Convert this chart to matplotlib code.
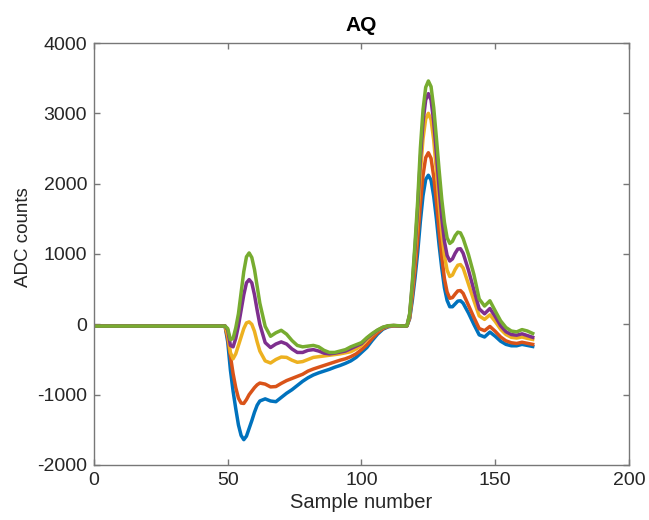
import matplotlib
matplotlib.use('Agg')
import matplotlib.pyplot as plt

# sample positions shared by all five traces
samples = [0, 49, 50, 51, 52, 53, 54, 55, 56, 57, 58, 59, 60, 61, 62,
           64, 66, 68, 70, 72, 74, 76, 78, 80, 82, 84, 86, 88, 90, 92, 94,
           96, 98, 100, 102, 104, 106, 108, 110, 112, 114, 116,
           117, 118, 119, 120, 121, 122, 123, 124, 125, 126, 127, 128, 129,
           130, 131, 132, 133, 134, 135, 136, 137, 138,
           140, 142, 144, 146, 148, 150, 152, 154, 156, 158, 160, 162, 164]

blue = [-25, -25, -250, -650, -950, -1200, -1430, -1580, -1640, -1590, -1480, -1370, -1250, -1150, -1090,
        -1060, -1090, -1100, -1040, -980, -930, -870, -810, -760, -720, -690, -665, -640, -610, -585, -555,
        -520, -470, -400, -330, -230, -140, -70, -35, -22, -22, -25,
        -22, 80, 340, 660, 1020, 1460, 1830, 2060, 2120, 2050, 1820, 1500, 1130,
        800, 520, 340, 250, 250, 290, 330, 335, 300,
        160, 0, -150, -180, -110, -170, -240, -285, -305, -305, -285, -300, -315]

orange = [-25, -25, -200, -450, -700, -900, -1050, -1120, -1125, -1070, -1000, -950, -900, -860, -835,
          -850, -890, -885, -840, -800, -770, -740, -710, -665, -635, -610, -585, -560, -535, -510, -490,
          -460, -420, -360, -290, -200, -120, -60, -30, -20, -22, -25,
          -22, 90, 400, 780, 1200, 1700, 2120, 2370, 2440, 2360, 2100, 1740, 1330,
          960, 650, 460, 370, 380, 430, 475, 480, 440,
          270, 100, -60, -90, -30, -100, -180, -235, -262, -272, -255, -270, -285]

yellow = [-25, -25, -150, -400, -490, -420, -300, -180, -60, 20, 35, 0, -100, -250, -380,
          -520, -550, -500, -465, -470, -510, -540, -530, -500, -470, -460, -450, -440, -430, -420, -405,
          -390, -350, -300, -220, -150, -90, -50, -25, -18, -22, -25,
          -20, 120, 500, 980, 1500, 2150, 2640, 2920, 3000, 2910, 2620, 2180, 1720,
          1300, 980, 770, 680, 700, 780, 840, 850, 800,
          570, 340, 120, 70, 135, 40, -70, -145, -185, -195, -180, -200, -215]

purple = [-25, -25, -80, -300, -320, -200, -20, 200, 420, 590, 636, 590, 420, 200, 0,
          -260, -330, -280, -250, -280, -350, -400, -400, -370, -360, -380, -410, -420, -410, -395, -380,
          -345, -310, -275, -200, -140, -85, -45, -22, -17, -22, -25,
          -20, 140, 560, 1080, 1650, 2350, 2880, 3190, 3280, 3190, 2880, 2430, 1950,
          1520, 1180, 980, 900, 930, 1010, 1070, 1075, 1010,
          770, 490, 220, 150, 225, 110, -20, -105, -145, -155, -135, -160, -185]

green = [-25, -25, -60, -220, -200, -50, 150, 450, 750, 960, 1015, 950, 780, 540, 300,
         -30, -170, -120, -85, -140, -230, -300, -320, -310, -300, -320, -370, -400, -400, -380, -360,
         -320, -290, -260, -190, -130, -80, -40, -20, -15, -20, -25,
         -20, 150, 600, 1150, 1750, 2500, 3050, 3370, 3460, 3380, 3080, 2650, 2200,
         1780, 1450, 1230, 1150, 1180, 1260, 1310, 1300, 1220,
         990, 710, 360, 260, 335, 190, 50, -45, -95, -108, -75, -95, -130]

series = [blue, orange, yellow, purple, green]
colors = ['#0072BD', '#D95319', '#EDB120', '#7E2F8E', '#77AC30']

plt.rcParams['font.family'] = ['Liberation Sans', 'DejaVu Sans']
plt.rcParams['axes.unicode_minus'] = False
text_col = '#262626'

fig = plt.figure(figsize=(6.49, 5.2), dpi=100)
ax = fig.add_axes([0.1448, 0.1058, 0.8244, 0.8115])

for ys, c in zip(series, colors):
    ax.plot(samples, ys, color=c, linewidth=2.5, solid_joinstyle='round')

ax.set_xlim(0, 200)
ax.set_ylim(-2000, 4000)
ax.set_xticks([0, 50, 100, 150, 200])
ax.set_yticks(range(-2000, 4001, 1000))
ax.tick_params(direction='in', top=True, right=True, length=4, width=1,
               colors='#777777', labelcolor=text_col, labelsize=14, pad=5)
for s in ax.spines.values():
    s.set_color('#777777')
    s.set_linewidth(1)

ax.set_xlabel('Sample number', fontsize=14.5, color=text_col, labelpad=3)
ax.set_ylabel('ADC counts', fontsize=13.5, color=text_col)
ax.yaxis.set_label_coords(-0.115, 0.54)
ax.set_title('AQ', fontsize=15, fontweight='bold', color='black', pad=9)

fig.savefig('out.png', dpi=100)
